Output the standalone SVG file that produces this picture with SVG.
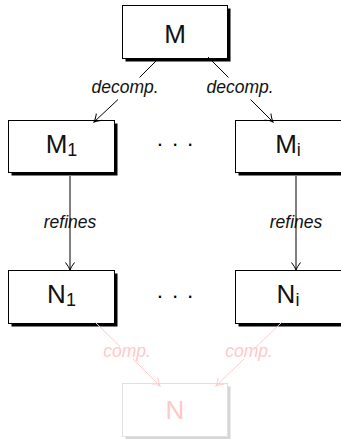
<svg xmlns="http://www.w3.org/2000/svg" width="341" height="439" viewBox="0 0 341 439">
<defs>
<marker id="arr" markerWidth="10" markerHeight="10" refX="0" refY="0" viewBox="-9 -5 10 10" orient="auto" markerUnits="userSpaceOnUse" overflow="visible">
<path d="M-7.5,-4.5 Q-3,-1 0,0 Q-3,1 -7.5,4.5" fill="none" stroke="#000" stroke-width="1"/>
</marker>
<marker id="arrp" markerWidth="10" markerHeight="10" refX="0" refY="0" viewBox="-9 -5 10 10" orient="auto" markerUnits="userSpaceOnUse" overflow="visible">
<path d="M-7.5,-4.5 Q-3,-1 0,0 Q-3,1 -7.5,4.5" fill="none" stroke="#ffcccc" stroke-width="1"/>
</marker>
</defs>
<style>
.box{fill:#fff;stroke:#000;stroke-width:1}
.sh{fill:#000}
.lbl{font-family:"Liberation Sans",Arial,sans-serif;font-size:26px;fill:#111;text-anchor:middle}
.sub{font-size:18px}
.edge{font-family:"Liberation Sans",Arial,sans-serif;font-size:17.5px;font-style:italic;fill:#111;text-anchor:middle}
.ln{fill:none;stroke:#000;stroke-width:1}
.pk{fill:none;stroke:#ffcccc;stroke-width:1}
.pkt{fill:#ffc8c8}
.dots{font-family:"Liberation Sans",Arial,sans-serif;font-size:22px;fill:#000;text-anchor:middle;letter-spacing:0.9px}
</style>
<rect width="341" height="439" fill="#fff"/>
<g id="node-M">
<rect class="sh" x="125.5" y="8.5" width="105" height="53"/>
<rect class="box" x="122.5" y="5.5" width="105" height="53"/>
<text class="lbl" x="175" y="43">M</text>
</g>
<g id="node-M1">
<rect class="sh" x="11.5" y="123.5" width="106" height="52"/>
<rect class="box" x="8.5" y="120.5" width="106" height="52"/>
<text class="lbl" x="61.5" y="153">M<tspan class="sub" dy="3">1</tspan></text>
</g>
<g id="node-Mi">
<rect class="sh" x="238.5" y="123.5" width="106" height="52"/>
<rect class="box" x="235.5" y="120.5" width="106" height="52"/>
<text class="lbl" x="288" y="153">M<tspan class="sub" dy="3">i</tspan></text>
</g>
<g id="node-N1">
<rect class="sh" x="11.5" y="273.5" width="106" height="53"/>
<rect class="box" x="8.5" y="270.5" width="106" height="53"/>
<text class="lbl" x="61.5" y="303">N<tspan class="sub" dy="3">1</tspan></text>
</g>
<g id="node-Ni">
<rect class="sh" x="238.5" y="273.5" width="106" height="53"/>
<rect class="box" x="235.5" y="270.5" width="106" height="53"/>
<text class="lbl" x="288" y="303">N<tspan class="sub" dy="3">i</tspan></text>
</g>
<g id="node-N">
<rect x="125.5" y="386.5" width="105" height="53" fill="#d6d6d6"/>
<rect x="122.5" y="383.5" width="105" height="53" fill="#fff" stroke="#e0e0e0" stroke-width="1"/>
<text class="lbl" x="175" y="419" style="fill:#ffc8c8">N</text>
</g>
<g id="dots">
<text class="dots" x="175.5" y="151">· · ·</text>
<text class="dots" x="175.5" y="303">· · ·</text>
</g>
<g id="connectors">
<path class="ln" d="M159,58 L139.5,77.5 M118,99.5 L94,122" marker-end="url(#arr)"/>
<text class="edge" x="125" y="93">decomp.</text>
<path class="ln" d="M208,57 L228.5,77.5 M250.5,99.5 L273,122" marker-end="url(#arr)"/>
<text class="edge" x="240" y="93">decomp.</text>
<path class="ln" d="M70,176 L70,270" marker-end="url(#arr)"/>
<text class="edge" x="70" y="228">refines</text>
<path class="ln" d="M296,176 L296,270" marker-end="url(#arr)"/>
<text class="edge" x="296" y="228">refines</text>
<path class="pk" d="M95,322 L120,346.5 M133,359 L160,386" marker-end="url(#arrp)"/>
<text class="edge pkt" x="127" y="357" style="fill:#ffc8c8">comp.</text>
<path class="pk" d="M282,322 L253,350 M244,359 L216,386" marker-end="url(#arrp)"/>
<text class="edge pkt" x="249" y="357" style="fill:#ffc8c8">comp.</text>
</g>
</svg>
